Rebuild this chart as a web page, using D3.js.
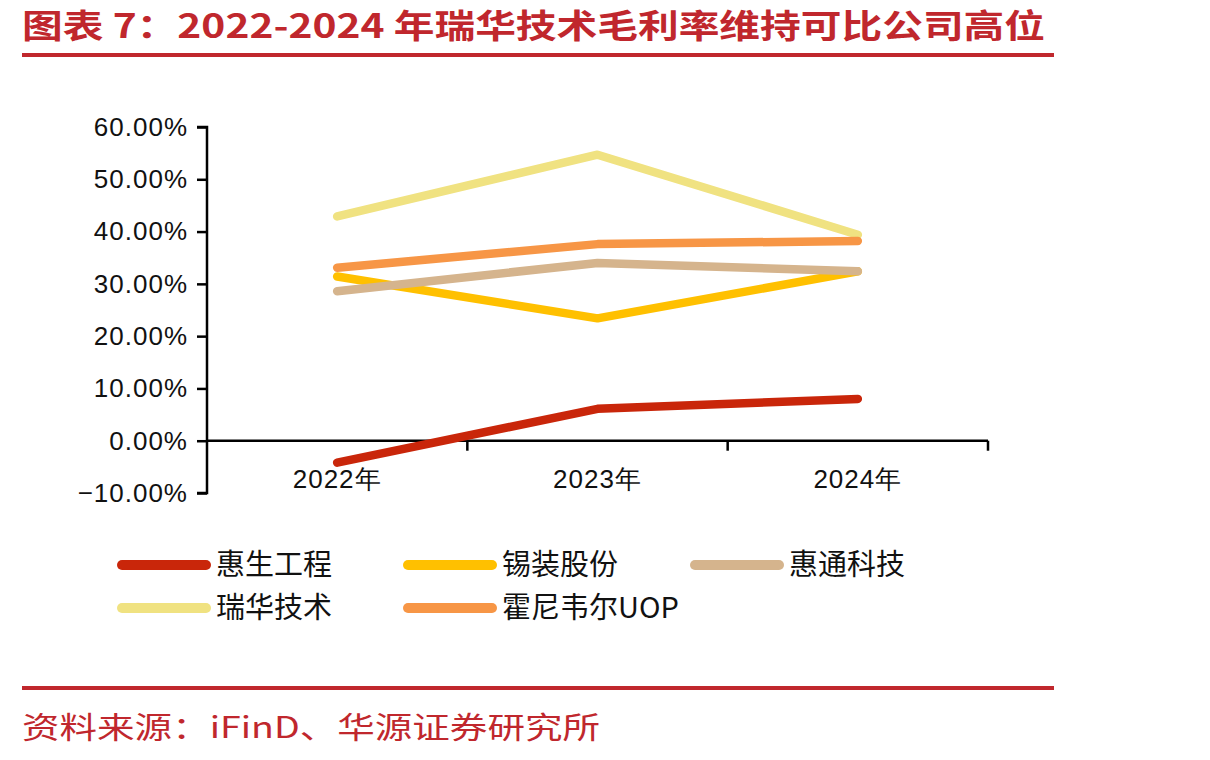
<!DOCTYPE html>
<html><head><meta charset="utf-8">
<script src="https://cdn.jsdelivr.net/npm/d3@7"></script>
<style>body{margin:0;background:#fff}svg{display:block}</style>
</head><body>
<svg id="c" width="1210" height="760"></svg>
<script>
const categories = ["2022年", "2023年", "2024年"];
const seriesNames = ["惠生工程", "锡装股份", "惠通科技", "瑞华技术", "霍尼韦尔UOP"];
const huisheng = [-4.2, 6.1, 8.0];
const xizhuang = [31.4, 23.4, 32.4];
const huitong = [28.6, 34.0, 32.4];
const ruihua = [42.9, 54.7, 39.4];
const honeywell = [33.1, 37.6, 38.2];
const yTicks = [-10, 0, 10, 20, 30, 40, 50, 60];
const colors = ["#C9260A", "#FFC000", "#D5B48D", "#F0E281", "#F79646"];
const title = "图表 7：2022-2024 年瑞华技术毛利率维持可比公司高位";
const source = "资料来源：iFinD、华源证券研究所";

const seriesValues = [huisheng, xizhuang, huitong, ruihua, honeywell];
const svg = d3.select("#c");
const red = "#C0272D";

// title
svg.append("text").attr("x", 22).attr("y", 38)
  .attr("font-family", "Noto Sans CJK SC").attr("font-weight", "bold")
  .attr("font-size", 33).attr("fill", red)
  .attr("textLength", 1023).attr("lengthAdjust", "spacingAndGlyphs")
  .text(title);
svg.append("rect").attr("x", 22).attr("y", 53).attr("width", 1032).attr("height", 4).attr("fill", red);
svg.append("rect").attr("x", 22).attr("y", 686).attr("width", 1032).attr("height", 4).attr("fill", red);
svg.append("text").attr("x", 22).attr("y", 738)
  .attr("font-family", "Noto Sans CJK SC")
  .attr("font-size", 30).attr("fill", red)
  .attr("textLength", 578).attr("lengthAdjust", "spacingAndGlyphs")
  .text(source);

const x = d3.scaleBand().domain(categories).range([207, 988]);
const y = d3.scaleLinear().domain([-10, 60]).range([493, 127]);

const font = "Liberation Sans, Arial, sans-serif";

// y axis
const yAxis = svg.append("g").attr("transform", "translate(207,0)")
  .call(d3.axisLeft(y).tickValues(yTicks).tickSize(10).tickPadding(9)
    .tickFormat(d => d3.format(".2f")(d).replace("-", "−") + "%"));
yAxis.select(".domain").attr("stroke", "#000").attr("stroke-width", 2.5).attr("d", `M-10,${y(60)}H0V${y(-10)}H-10`);
yAxis.selectAll(".tick line").attr("stroke", "#000").attr("stroke-width", 2.5);
yAxis.selectAll("text").attr("font-family", font).attr("font-size", 26).attr("letter-spacing", 1).attr("fill", "#111");

// x axis (line at zero)
const y0 = y(0);
svg.append("line").attr("x1", 207).attr("x2", 988).attr("y1", y0).attr("y2", y0)
  .attr("stroke", "#000").attr("stroke-width", 2.5);
categories.forEach(c => {
  const bx = x(c) + x.bandwidth();
  svg.append("line").attr("x1", bx).attr("x2", bx).attr("y1", y0).attr("y2", y0 + 10)
    .attr("stroke", "#000").attr("stroke-width", 2.5);
  svg.append("text").attr("x", x(c) + x.bandwidth() / 2).attr("y", 488)
    .attr("text-anchor", "middle").attr("font-family", font).attr("font-size", 26)
    .attr("letter-spacing", 1).attr("fill", "#111")
    .text(c);
});

// lines
const line = d3.line().x((d, i) => x(categories[i]) + x.bandwidth() / 2).y(d => y(d));
seriesValues.forEach((vals, i) => {
  svg.append("path").attr("d", line(vals)).attr("fill", "none")
    .attr("stroke", colors[i]).attr("stroke-width", 8.5)
    .attr("stroke-linecap", "round").attr("stroke-linejoin", "round");
});

// legend
const legX = [122, 408, 695];
const legY = [565, 608];
seriesNames.forEach((n, i) => {
  const lx = legX[i % 3], ly = legY[Math.floor(i / 3)];
  svg.append("line").attr("x1", lx).attr("x2", lx + 84).attr("y1", ly).attr("y2", ly)
    .attr("stroke", colors[i]).attr("stroke-width", 10).attr("stroke-linecap", "round");
  svg.append("text").attr("x", lx + 94).attr("y", ly + 10)
    .attr("font-family", "Noto Sans CJK SC").attr("font-size", 29).attr("fill", "#111")
    .text(n);
});
</script>
</body></html>
